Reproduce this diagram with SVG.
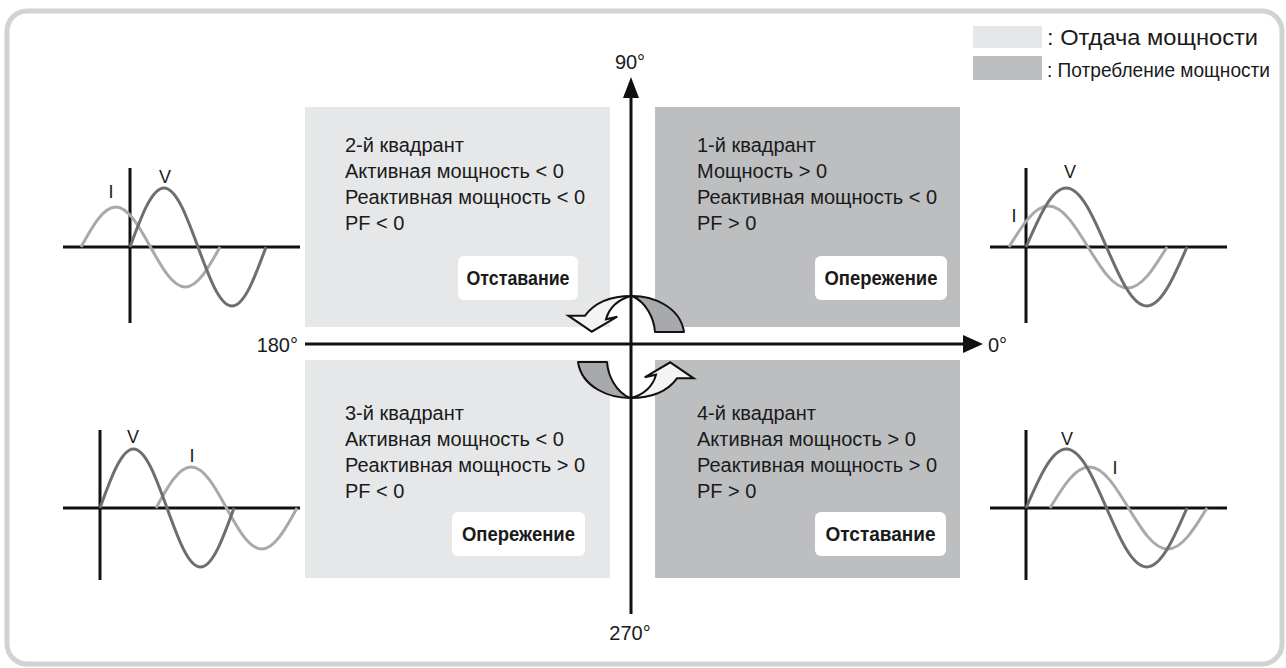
<svg xmlns="http://www.w3.org/2000/svg" width="1286" height="668" viewBox="0 0 1286 668">
<style>
text{font-family:"Liberation Sans",Arial,sans-serif;fill:#1a1a1a}
.q{font-size:20px}
.lbl{font-size:20px;font-weight:bold;text-anchor:middle}
.deg{font-size:20px}
.wl{font-size:18px;text-anchor:middle}
.light{fill:#e6e7e8}
.dark{fill:#bcbec0}
.box{fill:#ffffff}
.ax{stroke:#111;stroke-width:3;fill:none}
.wax{stroke:#111;stroke-width:3;fill:none}
.v{stroke:#6d6e71;stroke-width:3;fill:none}
.i{stroke:#a7a9ac;stroke-width:3;fill:none}
.band{fill:#a7a9ac;stroke:#111;stroke-width:2;stroke-linejoin:round}
.warr{fill:#f4f4f4;stroke:#111;stroke-width:2;stroke-linejoin:miter}
</style>
<rect x="7" y="11" width="1275" height="653" rx="20" fill="#fff" stroke="#d1d2d3" stroke-width="5"/>

<g id="legend">
<rect class="light" x="973" y="26" width="69" height="22"/>
<rect class="dark" x="973" y="56" width="69" height="24"/>
<text x="1047" y="45" style="font-size:22px" textLength="211" lengthAdjust="spacingAndGlyphs">: Отдача мощности</text>
<text x="1047" y="77" style="font-size:20px" textLength="223" lengthAdjust="spacingAndGlyphs">: Потребление мощности</text>
</g>

<g id="q2">
<rect class="light" x="305" y="107" width="305" height="220"/>
<text class="q" x="345" y="152">2-й квадрант</text>
<text class="q" x="345" y="178">Активная мощность &lt; 0</text>
<text class="q" x="345" y="204">Реактивная мощность &lt; 0</text>
<text class="q" x="345" y="230">PF &lt; 0</text>
<rect class="box" x="458" y="256" width="120" height="44" rx="6"/>
<text class="lbl" x="518" y="285" textLength="103" lengthAdjust="spacingAndGlyphs">Отставание</text>
</g>

<g id="q1">
<rect class="dark" x="655" y="107" width="305" height="220"/>
<text class="q" x="697" y="152">1-й квадрант</text>
<text class="q" x="697" y="178">Мощность &gt; 0</text>
<text class="q" x="697" y="204">Реактивная мощность &lt; 0</text>
<text class="q" x="697" y="230">PF &gt; 0</text>
<rect class="box" x="815" y="256" width="132" height="44" rx="6"/>
<text class="lbl" x="881" y="285" textLength="113" lengthAdjust="spacingAndGlyphs">Опережение</text>
</g>

<g id="q3">
<rect class="light" x="305" y="360" width="305" height="218"/>
<text class="q" x="345" y="420">3-й квадрант</text>
<text class="q" x="345" y="446">Активная мощность &lt; 0</text>
<text class="q" x="345" y="472">Реактивная мощность &gt; 0</text>
<text class="q" x="345" y="498">PF &lt; 0</text>
<rect class="box" x="452" y="512" width="133" height="44" rx="6"/>
<text class="lbl" x="518.5" y="541" textLength="113" lengthAdjust="spacingAndGlyphs">Опережение</text>
</g>

<g id="q4">
<rect class="dark" x="655" y="360" width="305" height="218"/>
<text class="q" x="697" y="420">4-й квадрант</text>
<text class="q" x="697" y="446">Активная мощность &gt; 0</text>
<text class="q" x="697" y="472">Реактивная мощность &gt; 0</text>
<text class="q" x="697" y="498">PF &gt; 0</text>
<rect class="box" x="815" y="512" width="131" height="44" rx="6"/>
<text class="lbl" x="880.5" y="541" textLength="110" lengthAdjust="spacingAndGlyphs">Отставание</text>
</g>

<g id="wave-q2">
<line class="wax" x1="63" y1="247" x2="300" y2="247"/>
<line class="wax" x1="130" y1="168" x2="130" y2="323"/>
<path class="i" d="M81,247 C92.3,226.5 103.2,207 115.75,207 S139.2,226.5 150.5,247 S172.7,287 185.25,287 S208.7,267.5 220,247"/>
<path class="v" d="M130,247 C141.1,216.8 151.7,188 164,188 S186.9,216.8 198,247 S219.7,306 232,306 S254.9,277.2 266,247"/>
<text class="wl" x="111" y="198">I</text>
<text class="wl" x="165" y="183">V</text>
</g>

<g id="wave-q1">
<line class="wax" x1="990" y1="247" x2="1227" y2="247"/>
<line class="wax" x1="1026" y1="168" x2="1026" y2="323"/>
<path class="i" d="M1009,247 C1021.9,226 1034.2,206 1048.5,206 S1075.1,226 1088,247 S1113.2,288 1127.5,288 S1154.1,268 1167,247"/>
<path class="v" d="M1026,247 C1039.1,216.8 1051.7,188 1066.25,188 S1093.4,216.8 1106.5,247 S1132.2,306 1146.75,306 S1173.9,277.2 1187,247"/>
<text class="wl" x="1014" y="222">I</text>
<text class="wl" x="1070" y="178">V</text>
</g>

<g id="wave-q3">
<line class="wax" x1="63" y1="508" x2="300" y2="508"/>
<line class="wax" x1="100" y1="430" x2="100" y2="580"/>
<path class="i" d="M156,508 C167.5,487 178.5,467 191.25,467 S215,487 226.5,508 S249,549 261.75,549 S285.5,529 297,508"/>
<path class="v" d="M100,508 C110.9,477.8 121.4,449 133.5,449 S156.1,477.8 167,508 S188.4,567 200.5,567 S223.1,538.2 234,508"/>
<text class="wl" x="133" y="443">V</text>
<text class="wl" x="192" y="462">I</text>
</g>

<g id="wave-q4">
<line class="wax" x1="990" y1="508" x2="1227" y2="508"/>
<line class="wax" x1="1026" y1="430" x2="1026" y2="580"/>
<path class="i" d="M1050,508 C1062.8,487 1075,467 1089.25,467 S1115.7,487 1128.5,508 S1153.5,549 1167.75,549 S1194.2,529 1207,508"/>
<path class="v" d="M1026,508 C1039.1,477.8 1051.7,449 1066.25,449 S1093.4,477.8 1106.5,508 S1132.2,567 1146.75,567 S1173.9,538.2 1187,508"/>
<text class="wl" x="1067" y="445">V</text>
<text class="wl" x="1115" y="474">I</text>
</g>

<g id="connectors">
<line class="ax" x1="631" y1="96" x2="631" y2="614"/>
<polygon points="623,98 631,77 639,98" fill="#111"/>
<line class="ax" x1="305" y1="344" x2="965" y2="344"/>
<polygon points="963,335 983,344 963,353" fill="#111"/>
</g>

<g id="axis-labels">
<text class="deg" x="630" y="69" text-anchor="middle">90°</text>
<text class="deg" x="988" y="352">0°</text>
<text class="deg" x="298" y="352" text-anchor="end">180°</text>
<text class="deg" x="630" y="640" text-anchor="middle">270°</text>
</g>

<g id="rotation">
<g id="rot-top">
<path class="band" d="M632,296 C652,296 680,306 684,332 L655,332 C654,318 646,302 632,296 Z"/>
<path class="warr" d="M591.7,331.7 L568.3,315.7 L585,315.7 C595,302 612,296 631.7,296 C618,299 609,308 606,319.3 L617.3,316.7 Z"/>
</g>
<g id="rot-bottom" transform="rotate(180 631 347)">
<path class="band" d="M632,296 C652,296 680,306 684,332 L655,332 C654,318 646,302 632,296 Z"/>
<path class="warr" d="M591.7,331.7 L568.3,315.7 L585,315.7 C595,302 612,296 631.7,296 C618,299 609,308 606,319.3 L617.3,316.7 Z"/>
</g>
</g>
</svg>
